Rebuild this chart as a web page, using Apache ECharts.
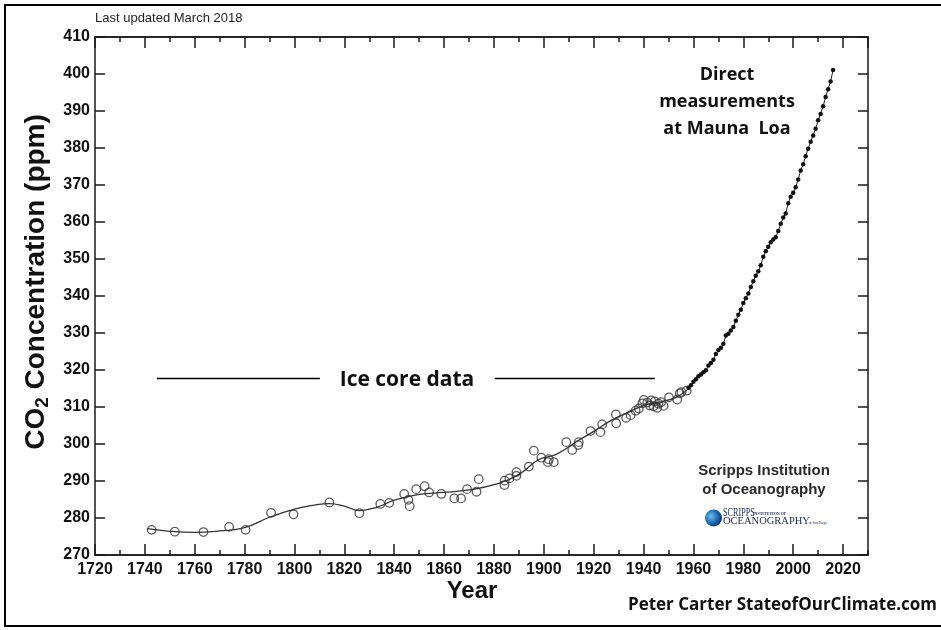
<!DOCTYPE html>
<html><head><meta charset="utf-8">
<script src="https://cdn.jsdelivr.net/npm/echarts@6/dist/echarts.min.js"></script>
<style>html,body{margin:0;padding:0;background:#fff}#c{width:941px;height:630px}</style>
</head><body><div id="c"></div>
<script>
// ---- data ----
const xRange = [1720, 2030];
const yRange = [270, 410];

const iceYears = [1742.7,1752,1763.5,1773.8,1780.4,1790.6,1799.6,1814,1826,1834.4,1838,1844,1845.7,1846.2,1848.8,1852.2,1854,1858.9,1864.1,1866.8,1869.2,1873,1873.9,1884.2,1884.3,1886.2,1889,1889,1894,1896,1899,1901.6,1902,1904,1909,1911.4,1913.8,1914,1918.7,1922.7,1923.4,1928.9,1929,1933,1934.8,1936.8,1938.1,1939.5,1940.1,1941.5,1942.5,1943,1944,1944.5,1945.5,1946,1947,1948,1950.2,1953.5,1954.5,1955.2,1957.3];
const iceValues = [276.8,276.3,276.2,277.6,276.8,281.4,281.0,284.2,281.3,283.8,284.1,286.5,284.9,283.2,287.8,288.6,286.9,286.5,285.3,285.3,287.8,287.1,290.5,288.9,290.1,290.7,291.4,292.4,293.9,298.2,296.3,295.1,295.9,295.1,300.5,298.4,299.7,300.5,303.5,303.2,305.3,308.0,305.6,307.1,307.8,309.0,309.6,311.0,311.9,311.2,310.4,311.8,310.2,311.5,309.8,310.9,311.3,310.3,312.6,312.0,313.7,314.0,314.4];

const fitYears = [1741,1750,1760,1770,1780,1790,1800,1808,1814,1820,1826,1833,1840,1850,1860,1870,1880,1890,1898,1905,1914,1920,1927,1933,1940,1947,1953,1958];
const fitValues = [277.1,276.4,276.1,276.5,277.4,280.2,282.4,283.5,283.9,283.2,282.0,282.9,284.8,286.4,286.9,287.6,289.0,291.8,295.8,297.2,301.0,303.4,306.4,308.3,310.4,311.4,312.6,314.9];

const mloYears = [1958,1959,1960,1961,1962,1963,1964,1965,1966,1967,1968,1969,1970,1971,1972,1973,1974,1975,1976,1977,1978,1979,1980,1981,1982,1983,1984,1985,1986,1987,1988,1989,1990,1991,1992,1993,1994,1995,1996,1997,1998,1999,2000,2001,2002,2003,2004,2005,2006,2007,2008,2009,2010,2011,2012,2013,2014,2015,2016];
const mloValues = [315.2,315.9,316.8,317.5,318.3,318.8,319.4,319.9,321.2,321.9,322.8,324.3,325.4,326.0,327.1,329.3,329.8,330.7,331.6,333.3,334.9,336.3,338.1,339.4,340.7,342.4,344.0,345.5,346.7,348.3,350.6,352.1,353.3,354.5,355.3,355.9,357.6,359.5,361.2,362.3,365.1,366.8,367.9,369.4,371.5,373.9,375.6,377.8,379.8,381.7,383.4,385.2,387.5,389.2,391.3,393.8,395.9,398.0,401.1];

const iceLabelLevel = 317.8;
const iceLineSpans = [[1744.8, 1810.2], [1880.3, 1944.5]];

// ---- chart ----
const zip = (a, b) => a.map((v, i) => [v, b[i]]);
const axisColor = '#1a1a1a';
const helv = '"Liberation Sans", Arial, sans-serif';
const tickFont = {fontFamily: helv, fontWeight: 'bold', fontSize: 16, color: '#111'};

function xAx(pos, interval, len, labels) {
  return {
    type: 'value', position: pos, min: xRange[0], max: xRange[1], interval: interval,
    axisLine: {show: true, onZero: false, lineStyle: {color: axisColor, width: 1.5}},
    axisTick: {show: true, inside: true, length: len, lineStyle: {color: axisColor, width: 1.5}},
    axisLabel: labels ? Object.assign({show: true, margin: 7, showMaxLabel: false, formatter: v => String(v)}, tickFont) : {show: false},
    splitLine: {show: false}
  };
}
function yAx(pos, labels) {
  return {
    type: 'value', position: pos, min: yRange[0], max: yRange[1], interval: 10,
    axisLine: {show: true, onZero: false, lineStyle: {color: axisColor, width: 1.5}},
    axisTick: {show: true, inside: true, length: 10, lineStyle: {color: axisColor, width: 1.5}},
    axisLabel: labels ? Object.assign({show: true, margin: 5, formatter: v => String(v)}, tickFont) : {show: false},
    splitLine: {show: false}
  };
}

const chart = echarts.init(document.getElementById('c'), null, {renderer: 'canvas'});
const sans = '"Open Sans", "Noto Sans", sans-serif';

chart.setOption({
  animation: false,
  backgroundColor: '#fff',
  grid: {left: 95, right: 73, top: 37, bottom: 75, containLabel: false},
  xAxis: [xAx('bottom', 20, 11, true), xAx('bottom', 10, 5, false), xAx('top', 20, 11, false), xAx('top', 10, 5, false)],
  yAxis: [
    Object.assign(yAx('left', true), {
      name: '{a|CO}{b|2}{a| Concentration (ppm)}', nameLocation: 'middle', nameRotate: 90, nameGap: 33,
      nameTextStyle: {padding: [0, 0, 0, 28], rich: {
        a: {fontFamily: helv, fontWeight: 'bold', fontSize: 28, color: '#111', lineHeight: 32},
        b: {fontFamily: helv, fontWeight: 'bold', fontSize: 19, color: '#111', lineHeight: 18, padding: [13, 0, 0, 0], verticalAlign: 'bottom'}
      }}
    }),
    yAx('right', false)
  ],
  series: [
    {
      type: 'line', data: zip(fitYears, fitValues), smooth: 0.45, showSymbol: false,
      lineStyle: {color: '#333', width: 1.3}, z: 2, silent: true,
      markLine: {
        symbol: 'none', silent: true, label: {show: false},
        lineStyle: {color: '#000', width: 1.3, type: 'solid'},
        data: iceLineSpans.map(s => [{coord: [s[0], iceLabelLevel]}, {coord: [s[1], iceLabelLevel]}])
      }
    },
    {
      type: 'scatter', data: zip(iceYears, iceValues), symbol: 'circle', symbolSize: 8.5,
      itemStyle: {color: 'rgba(255,255,255,0)', borderColor: '#333', borderWidth: 1.3}, z: 3
    },
    {
      type: 'line', data: zip(mloYears, mloValues), symbol: 'circle', symbolSize: 4.5, showAllSymbol: true,
      itemStyle: {color: '#111'}, lineStyle: {color: '#222', width: 1}, z: 4
    }
  ],
  graphic: [
    {type: 'rect', shape: {x: 5, y: 5, width: 945, height: 621}, style: {fill: 'none', stroke: '#000', lineWidth: 2}, silent: true},
    {type: 'text', x: 95, y: 18, style: {text: 'Last updated March 2018', font: '13px ' + helv, fill: '#222', textAlign: 'left', textVerticalAlign: 'middle'}},
    {type: 'text', x: 472, y: 591, style: {text: 'Year', font: 'bold 24px ' + helv, fill: '#111', textAlign: 'center', textVerticalAlign: 'middle'}},
    {type: 'text', x: 407, y: 380, style: {text: 'Ice core data', font: 'bold 21px ' + sans, fill: '#111', textAlign: 'center', textVerticalAlign: 'middle'}},
    {type: 'text', x: 727, y: 102, style: {text: 'Direct\nmeasurements\nat Mauna  Loa', font: 'bold 18px ' + sans, lineHeight: 27, fill: '#111', textAlign: 'center', textVerticalAlign: 'middle'}},
    {type: 'text', x: 764, y: 480, style: {text: 'Scripps Institution\nof Oceanography', font: 'bold 15px ' + helv, lineHeight: 19, fill: '#2a2a2a', textAlign: 'center', textVerticalAlign: 'middle'}},
    {type: 'circle', shape: {cx: 713.5, cy: 518, r: 8.5}, style: {fill: new echarts.graphic.RadialGradient(0.35, 0.4, 0.7, [{offset: 0, color: '#6cc0ee'}, {offset: 0.55, color: '#1f6fb8'}, {offset: 1, color: '#0b2a66'}])}},
    {type: 'text', x: 723, y: 513, scaleX: 0.68, style: {text: 'SCRIPPS', font: '12px "Liberation Serif", serif', fill: '#1c2850', textAlign: 'left', textVerticalAlign: 'middle'}},
    {type: 'text', x: 753, y: 514, style: {text: 'INSTITUTION OF', font: 'bold 4px "Liberation Serif", serif', fill: '#1c2850', textAlign: 'left', textVerticalAlign: 'middle'}},
    {type: 'text', x: 723, y: 521.5, style: {text: 'OCEANOGRAPHY', font: '10.5px "Liberation Serif", serif', fill: '#1c2850', textAlign: 'left', textVerticalAlign: 'middle'}},
    {type: 'text', x: 809, y: 523, style: {text: 'at San Diego', font: '3.5px "Liberation Serif", serif', fill: '#1c2850', textAlign: 'left', textVerticalAlign: 'middle'}},
    {type: 'text', x: 937, y: 605, style: {text: 'Peter Carter StateofOurClimate.com', font: 'bold 17px ' + sans, fill: '#111', textAlign: 'right', textVerticalAlign: 'middle'}}
  ]
});
</script>
</body></html>
